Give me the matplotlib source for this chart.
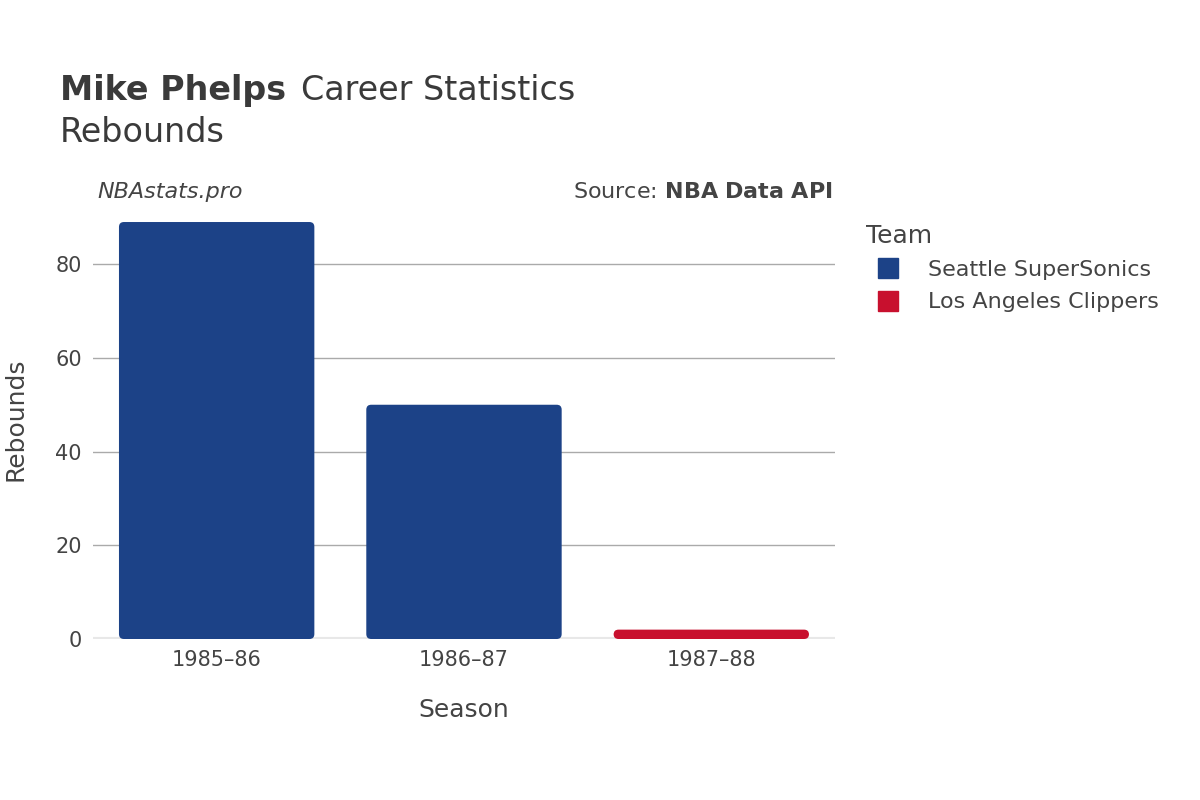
import matplotlib
matplotlib.use("Agg")
import matplotlib.pyplot as plt
from matplotlib.patches import FancyBboxPatch, Patch
from matplotlib.lines import Line2D

seasons = ["1985–86", "1986–87", "1987–88"]
rebounds = [89, 50, 2]
teams = ["Seattle SuperSonics", "Seattle SuperSonics", "Los Angeles Clippers"]
team_colors = {"Seattle SuperSonics": "#1c4287", "Los Angeles Clippers": "#c8102e"}
yticks = [0, 20, 40, 60, 80]

fig = plt.figure(figsize=(12, 8), dpi=100)
ax = fig.add_axes([0.0775, 0.20125, 0.6183, 0.54875])
ymax = 93.7
ax.set_xlim(-0.5, 2.5)
ax.set_ylim(0, ymax)
asp = (ymax / 439) / (3 / 742)
w = 0.79
for i, (v, t) in enumerate(zip(rebounds, teams)):
    p = FancyBboxPatch((i - w / 2, 0), w, v, boxstyle="round,pad=0,rounding_size=0.02",
                       mutation_aspect=asp, facecolor=team_colors[t], edgecolor="none", zorder=3)
    ax.add_patch(p)
ax.set_yticks(yticks)
ax.set_xticks(range(len(seasons)))
ax.set_xticklabels(seasons)
ax.grid(axis="y", color="#aaaaaa", lw=1, zorder=0)
ax.axhline(0, color="#e8e8e8", lw=3, zorder=2)
for s in ax.spines.values():
    s.set_visible(False)
ax.tick_params(axis="both", length=0, labelsize=15, colors="#444444", pad=8)
ax.set_xlabel("Season", fontsize=18, color="#444444", labelpad=20)
ax.set_ylabel("Rebounds", fontsize=18, color="#444444", labelpad=20)

fig.text(0.05, 0.875, "Mike Phelps", fontsize=24, fontweight="bold", color="#3a3a3a")
fig.text(0.2505, 0.875, "Career Statistics", fontsize=24, color="#3a3a3a")
fig.text(0.05, 0.822, "Rebounds", fontsize=24, color="#3a3a3a")
fig.text(0.081, 0.752, "NBAstats.pro", fontsize=16, style="italic", color="#444444")
fig.text(0.694, 0.752, "Source: $\\bf{NBA\\ Data\\ API}$", fontsize=16, color="#444444", ha="right")

handles = [Line2D([0], [0], marker="s", color="none", markerfacecolor=c, markeredgecolor=c,
                  markersize=15) for c in team_colors.values()]
leg = fig.legend(handles, list(team_colors.keys()), loc="upper left", bbox_to_anchor=(0.705, 0.745),
                 frameon=False, fontsize=16, title="Team", title_fontsize=18,
                 labelcolor="#444444", handletextpad=0.8, labelspacing=0.55)
leg.get_title().set_color("#444444")
leg._legend_box.align = "left"
fig.savefig("out.png", dpi=100)
